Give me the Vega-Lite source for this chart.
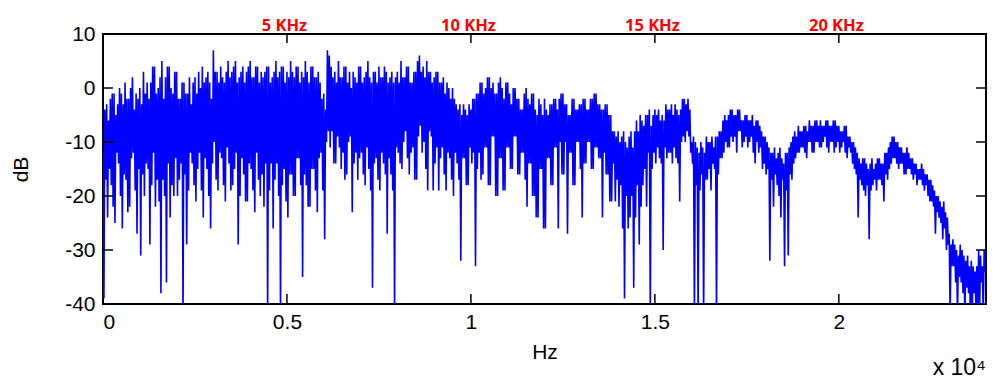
{
"$schema": "https://vega.github.io/schema/vega-lite/v6.json",
"width": 883, "height": 270,
"autosize": {"type": "none"},
"padding": {"left": 103, "top": 34, "right": 21, "bottom": 84},
"config": {"view": {"stroke": "black", "strokeWidth": 2}, "font": "Liberation Sans"},
"title": {"text": "x 10⁴", "orient": "bottom", "anchor": "end", "frame": "group", "font": "Liberation Sans", "fontSize": 23, "fontWeight": "normal", "color": "black", "offset": -5},
"datasets": {
"ticksX": [{"t":5000},{"t":10000},{"t":15000},{"t":20000}],
"ticksY": [{"v":-30},{"v":-20},{"v":-10},{"v":0}],
"spectrum": [
{"hz":0,"db":-12},{"hz":25,"db":-39},{"hz":50,"db":-4},{"hz":75,"db":-17},
{"hz":100,"db":-3},{"hz":125,"db":-24},{"hz":150,"db":-6},{"hz":175,"db":-15},
{"hz":200,"db":-2},{"hz":225,"db":-18},{"hz":250,"db":-1},{"hz":275,"db":-22},
{"hz":300,"db":-1},{"hz":325,"db":-25},{"hz":350,"db":-5},{"hz":375,"db":-12},
{"hz":400,"db":-3},{"hz":425,"db":-14},{"hz":450,"db":0},{"hz":475,"db":-20},
{"hz":500,"db":-1},{"hz":525,"db":-26},{"hz":550,"db":-3},{"hz":575,"db":-16},
{"hz":600,"db":1},{"hz":625,"db":-17},{"hz":650,"db":-2},{"hz":675,"db":-23},
{"hz":700,"db":-2},{"hz":725,"db":-22},{"hz":750,"db":0},{"hz":775,"db":-13},
{"hz":800,"db":2},{"hz":825,"db":-12},{"hz":850,"db":-4},{"hz":875,"db":-19},
{"hz":900,"db":-1},{"hz":925,"db":-27},{"hz":950,"db":-2},{"hz":975,"db":-15},
{"hz":1000,"db":0},{"hz":1025,"db":-31},{"hz":1050,"db":-3},{"hz":1075,"db":-16},
{"hz":1100,"db":3},{"hz":1125,"db":-20},{"hz":1150,"db":-1},{"hz":1175,"db":-14},
{"hz":1200,"db":1},{"hz":1225,"db":-15},{"hz":1250,"db":-2},{"hz":1275,"db":-29},
{"hz":1300,"db":1},{"hz":1325,"db":-18},{"hz":1350,"db":4},{"hz":1375,"db":-12},
{"hz":1400,"db":4},{"hz":1425,"db":-22},{"hz":1450,"db":-1},{"hz":1475,"db":-17},
{"hz":1500,"db":0},{"hz":1525,"db":-21},{"hz":1550,"db":2},{"hz":1575,"db":-38},
{"hz":1600,"db":5},{"hz":1625,"db":-17},{"hz":1650,"db":-2},{"hz":1675,"db":-20},
{"hz":1700,"db":2},{"hz":1725,"db":-36},{"hz":1750,"db":4},{"hz":1775,"db":-14},
{"hz":1800,"db":4},{"hz":1825,"db":-24},{"hz":1850,"db":0},{"hz":1875,"db":-18},
{"hz":1900,"db":-1},{"hz":1925,"db":-20},{"hz":1950,"db":3},{"hz":1975,"db":-13},
{"hz":2000,"db":3},{"hz":2025,"db":-20},{"hz":2050,"db":-2},{"hz":2075,"db":-17},
{"hz":2100,"db":-2},{"hz":2125,"db":-14},{"hz":2150,"db":1},{"hz":2175,"db":-42},
{"hz":2200,"db":1},{"hz":2225,"db":-16},{"hz":2250,"db":-1},{"hz":2275,"db":-29},
{"hz":2300,"db":-1},{"hz":2325,"db":-19},{"hz":2350,"db":2},{"hz":2375,"db":-12},
{"hz":2400,"db":-3},{"hz":2425,"db":-14},{"hz":2450,"db":1},{"hz":2475,"db":-18},
{"hz":2500,"db":2},{"hz":2525,"db":-21},{"hz":2550,"db":-1},{"hz":2575,"db":-15},
{"hz":2600,"db":3},{"hz":2625,"db":-12},{"hz":2650,"db":0},{"hz":2675,"db":-19},
{"hz":2700,"db":4},{"hz":2725,"db":-24},{"hz":2750,"db":1},{"hz":2775,"db":-13},
{"hz":2800,"db":2},{"hz":2825,"db":-15},{"hz":2850,"db":3},{"hz":2875,"db":-20},
{"hz":2900,"db":1},{"hz":2925,"db":-26},{"hz":2950,"db":-2},{"hz":2975,"db":-14},
{"hz":3000,"db":7},{"hz":3025,"db":-10},{"hz":3050,"db":3},{"hz":3075,"db":-17},
{"hz":3100,"db":3},{"hz":3125,"db":-19},{"hz":3150,"db":1},{"hz":3175,"db":-12},
{"hz":3200,"db":4},{"hz":3225,"db":-13},{"hz":3250,"db":2},{"hz":3275,"db":-18},
{"hz":3300,"db":1},{"hz":3325,"db":-21},{"hz":3350,"db":3},{"hz":3375,"db":-11},
{"hz":3400,"db":5},{"hz":3425,"db":-14},{"hz":3450,"db":2},{"hz":3475,"db":-19},
{"hz":3500,"db":3},{"hz":3525,"db":-18},{"hz":3550,"db":4},{"hz":3575,"db":-15},
{"hz":3600,"db":5},{"hz":3625,"db":-12},{"hz":3650,"db":1},{"hz":3675,"db":-29},
{"hz":3700,"db":2},{"hz":3725,"db":-20},{"hz":3750,"db":3},{"hz":3775,"db":-13},
{"hz":3800,"db":4},{"hz":3825,"db":-16},{"hz":3850,"db":1},{"hz":3875,"db":-21},
{"hz":3900,"db":3},{"hz":3925,"db":-21},{"hz":3950,"db":4},{"hz":3975,"db":-14},
{"hz":4000,"db":5},{"hz":4025,"db":-15},{"hz":4050,"db":2},{"hz":4075,"db":-19},
{"hz":4100,"db":2},{"hz":4125,"db":-23},{"hz":4150,"db":4},{"hz":4175,"db":-12},
{"hz":4200,"db":4},{"hz":4225,"db":-17},{"hz":4250,"db":1},{"hz":4275,"db":-20},
{"hz":4300,"db":3},{"hz":4325,"db":-16},{"hz":4350,"db":2},{"hz":4375,"db":-22},
{"hz":4400,"db":3},{"hz":4425,"db":-14},{"hz":4450,"db":4},{"hz":4475,"db":-42},
{"hz":4500,"db":4},{"hz":4525,"db":-19},{"hz":4550,"db":1},{"hz":4575,"db":-14},
{"hz":4600,"db":2},{"hz":4625,"db":-26},{"hz":4650,"db":3},{"hz":4675,"db":-17},
{"hz":4700,"db":5},{"hz":4725,"db":-14},{"hz":4750,"db":2},{"hz":4775,"db":-20},
{"hz":4800,"db":3},{"hz":4825,"db":-42},{"hz":4850,"db":4},{"hz":4875,"db":-18},
{"hz":4900,"db":4},{"hz":4925,"db":-15},{"hz":4950,"db":1},{"hz":4975,"db":-21},
{"hz":5000,"db":3},{"hz":5025,"db":-24},{"hz":5050,"db":2},{"hz":5075,"db":-16},
{"hz":5100,"db":5},{"hz":5125,"db":-16},{"hz":5150,"db":3},{"hz":5175,"db":-20},
{"hz":5200,"db":2},{"hz":5225,"db":-20},{"hz":5250,"db":4},{"hz":5275,"db":-13},
{"hz":5300,"db":4},{"hz":5325,"db":-13},{"hz":5350,"db":1},{"hz":5375,"db":-18},
{"hz":5400,"db":3},{"hz":5425,"db":-35},{"hz":5450,"db":2},{"hz":5475,"db":-16},
{"hz":5500,"db":5},{"hz":5525,"db":-18},{"hz":5550,"db":3},{"hz":5575,"db":-22},
{"hz":5600,"db":1},{"hz":5625,"db":-22},{"hz":5650,"db":4},{"hz":5675,"db":-15},
{"hz":5700,"db":4},{"hz":5725,"db":-15},{"hz":5750,"db":2},{"hz":5775,"db":-19},
{"hz":5800,"db":2},{"hz":5825,"db":-23},{"hz":5850,"db":3},{"hz":5875,"db":-13},
{"hz":5900,"db":1},{"hz":5925,"db":-12},{"hz":5950,"db":-2},{"hz":5975,"db":-19},
{"hz":6000,"db":-1},{"hz":6025,"db":-28},{"hz":6050,"db":-4},{"hz":6075,"db":-10},
{"hz":6100,"db":7},{"hz":6125,"db":-8},{"hz":6150,"db":6},{"hz":6175,"db":-11},
{"hz":6200,"db":4},{"hz":6225,"db":-8},{"hz":6250,"db":2},{"hz":6275,"db":-14},
{"hz":6300,"db":3},{"hz":6325,"db":-14},{"hz":6350,"db":1},{"hz":6375,"db":-9},
{"hz":6400,"db":5},{"hz":6425,"db":-11},{"hz":6450,"db":2},{"hz":6475,"db":-15},
{"hz":6500,"db":2},{"hz":6525,"db":-12},{"hz":6550,"db":4},{"hz":6575,"db":-17},
{"hz":6600,"db":4},{"hz":6625,"db":-16},{"hz":6650,"db":1},{"hz":6675,"db":-10},
{"hz":6700,"db":3},{"hz":6725,"db":-9},{"hz":6750,"db":0},{"hz":6775,"db":-23},
{"hz":6800,"db":3},{"hz":6825,"db":-14},{"hz":6850,"db":2},{"hz":6875,"db":-12},
{"hz":6900,"db":1},{"hz":6925,"db":-17},{"hz":6950,"db":4},{"hz":6975,"db":-13},
{"hz":7000,"db":4},{"hz":7025,"db":-12},{"hz":7050,"db":1},{"hz":7075,"db":-16},
{"hz":7100,"db":2},{"hz":7125,"db":-18},{"hz":7150,"db":3},{"hz":7175,"db":-11},
{"hz":7200,"db":5},{"hz":7225,"db":-15},{"hz":7250,"db":2},{"hz":7275,"db":-19},
{"hz":7300,"db":1},{"hz":7325,"db":-37},{"hz":7350,"db":3},{"hz":7375,"db":-14},
{"hz":7400,"db":3},{"hz":7425,"db":-13},{"hz":7450,"db":1},{"hz":7475,"db":-17},
{"hz":7500,"db":4},{"hz":7525,"db":-19},{"hz":7550,"db":2},{"hz":7575,"db":-12},
{"hz":7600,"db":2},{"hz":7625,"db":-14},{"hz":7650,"db":4},{"hz":7675,"db":-16},
{"hz":7700,"db":3},{"hz":7725,"db":-27},{"hz":7750,"db":1},{"hz":7775,"db":-13},
{"hz":7800,"db":2},{"hz":7825,"db":-16},{"hz":7850,"db":3},{"hz":7875,"db":-19},
{"hz":7900,"db":1},{"hz":7925,"db":-42},{"hz":7950,"db":2},{"hz":7975,"db":-11},
{"hz":8000,"db":3},{"hz":8025,"db":-12},{"hz":8050,"db":1},{"hz":8075,"db":-14},
{"hz":8100,"db":5},{"hz":8125,"db":-15},{"hz":8150,"db":2},{"hz":8175,"db":-10},
{"hz":8200,"db":2},{"hz":8225,"db":-8},{"hz":8250,"db":4},{"hz":8275,"db":-13},
{"hz":8300,"db":4},{"hz":8325,"db":-16},{"hz":8350,"db":1},{"hz":8375,"db":-12},
{"hz":8400,"db":1},{"hz":8425,"db":-11},{"hz":8450,"db":3},{"hz":8475,"db":-17},
{"hz":8500,"db":3},{"hz":8525,"db":-17},{"hz":8550,"db":5},{"hz":8575,"db":-9},
{"hz":8600,"db":6},{"hz":8625,"db":-7},{"hz":8650,"db":3},{"hz":8675,"db":-12},
{"hz":8700,"db":4},{"hz":8725,"db":-10},{"hz":8750,"db":2},{"hz":8775,"db":-15},
{"hz":8800,"db":5},{"hz":8825,"db":-19},{"hz":8850,"db":3},{"hz":8875,"db":-8},
{"hz":8900,"db":3},{"hz":8925,"db":-9},{"hz":8950,"db":1},{"hz":8975,"db":-19},
{"hz":9000,"db":2},{"hz":9025,"db":-14},{"hz":9050,"db":3},{"hz":9075,"db":-11},
{"hz":9100,"db":3},{"hz":9125,"db":-19},{"hz":9150,"db":1},{"hz":9175,"db":-13},
{"hz":9200,"db":1},{"hz":9225,"db":-11},{"hz":9250,"db":2},{"hz":9275,"db":-16},
{"hz":9300,"db":-1},{"hz":9325,"db":-19},{"hz":9350,"db":1},{"hz":9375,"db":-12},
{"hz":9400,"db":0},{"hz":9425,"db":-13},{"hz":9450,"db":-2},{"hz":9475,"db":-17},
{"hz":9500,"db":0},{"hz":9525,"db":-20},{"hz":9550,"db":-2},{"hz":9575,"db":-12},
{"hz":9600,"db":-3},{"hz":9625,"db":-14},{"hz":9650,"db":-4},{"hz":9675,"db":-17},
{"hz":9700,"db":-3},{"hz":9725,"db":-32},{"hz":9750,"db":-5},{"hz":9775,"db":-13},
{"hz":9800,"db":-3},{"hz":9825,"db":-13},{"hz":9850,"db":-4},{"hz":9875,"db":-18},
{"hz":9900,"db":-5},{"hz":9925,"db":-18},{"hz":9950,"db":-3},{"hz":9975,"db":-11},
{"hz":10000,"db":-4},{"hz":10025,"db":-14},{"hz":10050,"db":-2},{"hz":10075,"db":-12},
{"hz":10100,"db":-2},{"hz":10125,"db":-33},{"hz":10150,"db":-1},{"hz":10175,"db":-15},
{"hz":10200,"db":-1},{"hz":10225,"db":-12},{"hz":10250,"db":1},{"hz":10275,"db":-17},
{"hz":10300,"db":1},{"hz":10325,"db":-16},{"hz":10350,"db":-1},{"hz":10375,"db":-11},
{"hz":10400,"db":0},{"hz":10425,"db":-11},{"hz":10450,"db":2},{"hz":10475,"db":-18},
{"hz":10500,"db":2},{"hz":10525,"db":-18},{"hz":10550,"db":0},{"hz":10575,"db":-9},
{"hz":10600,"db":1},{"hz":10625,"db":-9},{"hz":10650,"db":-1},{"hz":10675,"db":-20},
{"hz":10700,"db":-1},{"hz":10725,"db":-20},{"hz":10750,"db":1},{"hz":10775,"db":-13},
{"hz":10800,"db":2},{"hz":10825,"db":-13},{"hz":10850,"db":0},{"hz":10875,"db":-19},
{"hz":10900,"db":-2},{"hz":10925,"db":-19},{"hz":10950,"db":1},{"hz":10975,"db":-11},
{"hz":11000,"db":1},{"hz":11025,"db":-11},{"hz":11050,"db":-1},{"hz":11075,"db":-15},
{"hz":11100,"db":-3},{"hz":11125,"db":-15},{"hz":11150,"db":0},{"hz":11175,"db":-9},
{"hz":11200,"db":0},{"hz":11225,"db":-9},{"hz":11250,"db":-2},{"hz":11275,"db":-16},
{"hz":11300,"db":-2},{"hz":11325,"db":-16},{"hz":11350,"db":-4},{"hz":11375,"db":-12},
{"hz":11400,"db":-4},{"hz":11425,"db":-12},{"hz":11450,"db":-1},{"hz":11475,"db":-17},
{"hz":11500,"db":0},{"hz":11525,"db":-22},{"hz":11550,"db":-2},{"hz":11575,"db":-14},
{"hz":11600,"db":-3},{"hz":11625,"db":-14},{"hz":11650,"db":-1},{"hz":11675,"db":-20},
{"hz":11700,"db":-1},{"hz":11725,"db":-20},{"hz":11750,"db":-4},{"hz":11775,"db":-24},
{"hz":11800,"db":-5},{"hz":11825,"db":-24},{"hz":11850,"db":-2},{"hz":11875,"db":-15},
{"hz":11900,"db":-3},{"hz":11925,"db":-15},{"hz":11950,"db":-5},{"hz":11975,"db":-26},
{"hz":12000,"db":-2},{"hz":12025,"db":-26},{"hz":12050,"db":-4},{"hz":12075,"db":-13},
{"hz":12100,"db":-5},{"hz":12125,"db":-13},{"hz":12150,"db":-3},{"hz":12175,"db":-18},
{"hz":12200,"db":-3},{"hz":12225,"db":-18},{"hz":12250,"db":-2},{"hz":12275,"db":-11},
{"hz":12300,"db":-2},{"hz":12325,"db":-11},{"hz":12350,"db":-4},{"hz":12375,"db":-26},
{"hz":12400,"db":-2},{"hz":12425,"db":-10},{"hz":12450,"db":-1},{"hz":12475,"db":-16},
{"hz":12500,"db":-1},{"hz":12525,"db":-16},{"hz":12550,"db":-3},{"hz":12575,"db":-10},
{"hz":12600,"db":-3},{"hz":12625,"db":-27},{"hz":12650,"db":-5},{"hz":12675,"db":-12},
{"hz":12700,"db":-5},{"hz":12725,"db":-12},{"hz":12750,"db":-2},{"hz":12775,"db":-18},
{"hz":12800,"db":-2},{"hz":12825,"db":-18},{"hz":12850,"db":-4},{"hz":12875,"db":-10},
{"hz":12900,"db":-4},{"hz":12925,"db":-10},{"hz":12950,"db":-3},{"hz":12975,"db":-15},
{"hz":13000,"db":-3},{"hz":13025,"db":-24},{"hz":13050,"db":-2},{"hz":13075,"db":-14},
{"hz":13100,"db":-2},{"hz":13125,"db":-14},{"hz":13150,"db":-4},{"hz":13175,"db":-10},
{"hz":13200,"db":-4},{"hz":13225,"db":-10},{"hz":13250,"db":-2},{"hz":13275,"db":-15},
{"hz":13300,"db":-2},{"hz":13325,"db":-15},{"hz":13350,"db":-1},{"hz":13375,"db":-11},
{"hz":13400,"db":-1},{"hz":13425,"db":-11},{"hz":13450,"db":-3},{"hz":13475,"db":-13},
{"hz":13500,"db":-3},{"hz":13525,"db":-13},{"hz":13550,"db":-4},{"hz":13575,"db":-24},
{"hz":13600,"db":-4},{"hz":13625,"db":-12},{"hz":13650,"db":-3},{"hz":13675,"db":-16},
{"hz":13700,"db":-3},{"hz":13725,"db":-16},{"hz":13750,"db":-5},{"hz":13775,"db":-21},
{"hz":13800,"db":-5},{"hz":13825,"db":-21},{"hz":13850,"db":-8},{"hz":13875,"db":-14},
{"hz":13900,"db":-8},{"hz":13925,"db":-21},{"hz":13950,"db":-9},{"hz":13975,"db":-17},
{"hz":14000,"db":-8},{"hz":14025,"db":-22},{"hz":14050,"db":-10},{"hz":14075,"db":-18},
{"hz":14100,"db":-9},{"hz":14125,"db":-26},{"hz":14150,"db":-8},{"hz":14175,"db":-39},
{"hz":14200,"db":-10},{"hz":14225,"db":-20},{"hz":14250,"db":-11},{"hz":14275,"db":-26},
{"hz":14300,"db":-9},{"hz":14325,"db":-24},{"hz":14350,"db":-8},{"hz":14375,"db":-20},
{"hz":14400,"db":-11},{"hz":14425,"db":-37},{"hz":14450,"db":-8},{"hz":14475,"db":-24},
{"hz":14500,"db":-6},{"hz":14525,"db":-18},{"hz":14550,"db":-8},{"hz":14575,"db":-29},
{"hz":14600,"db":-5},{"hz":14625,"db":-22},{"hz":14650,"db":-6},{"hz":14675,"db":-18},
{"hz":14700,"db":-7},{"hz":14725,"db":-15},{"hz":14750,"db":-5},{"hz":14775,"db":-22},
{"hz":14800,"db":-5},{"hz":14825,"db":-12},{"hz":14850,"db":-4},{"hz":14875,"db":-42},
{"hz":14900,"db":-7},{"hz":14925,"db":-15},{"hz":14950,"db":-5},{"hz":14975,"db":-12},
{"hz":15000,"db":-4},{"hz":15025,"db":-14},{"hz":15050,"db":-5},{"hz":15075,"db":-11},
{"hz":15100,"db":-4},{"hz":15125,"db":-13},{"hz":15150,"db":-6},{"hz":15175,"db":-14},
{"hz":15200,"db":-5},{"hz":15225,"db":-30},{"hz":15250,"db":-6},{"hz":15275,"db":-11},
{"hz":15300,"db":-3},{"hz":15325,"db":-13},{"hz":15350,"db":-4},{"hz":15375,"db":-12},
{"hz":15400,"db":-4},{"hz":15425,"db":-12},{"hz":15450,"db":-3},{"hz":15475,"db":-14},
{"hz":15500,"db":-5},{"hz":15525,"db":-11},{"hz":15550,"db":-3},{"hz":15575,"db":-13},
{"hz":15600,"db":-4},{"hz":15625,"db":-14},{"hz":15650,"db":-5},{"hz":15675,"db":-21},
{"hz":15700,"db":-4},{"hz":15725,"db":-10},{"hz":15750,"db":-2},{"hz":15775,"db":-9},
{"hz":15800,"db":-2},{"hz":15825,"db":-10},{"hz":15850,"db":-3},{"hz":15875,"db":-8},
{"hz":15900,"db":-2},{"hz":15925,"db":-9},{"hz":15950,"db":-4},{"hz":15975,"db":-12},
{"hz":16000,"db":-10},{"hz":16025,"db":-14},{"hz":16050,"db":-9},{"hz":16075,"db":-42},
{"hz":16100,"db":-10},{"hz":16125,"db":-18},{"hz":16150,"db":-11},{"hz":16175,"db":-42},
{"hz":16200,"db":-12},{"hz":16225,"db":-19},{"hz":16250,"db":-10},{"hz":16275,"db":-16},
{"hz":16300,"db":-11},{"hz":16325,"db":-42},{"hz":16350,"db":-12},{"hz":16375,"db":-17},
{"hz":16400,"db":-9},{"hz":16425,"db":-17},{"hz":16450,"db":-10},{"hz":16475,"db":-15},
{"hz":16500,"db":-10},{"hz":16525,"db":-19},{"hz":16550,"db":-9},{"hz":16575,"db":-14},
{"hz":16600,"db":-11},{"hz":16625,"db":-15},{"hz":16650,"db":-9},{"hz":16675,"db":-42},
{"hz":16700,"db":-9},{"hz":16725,"db":-16},{"hz":16750,"db":-8},{"hz":16775,"db":-13},
{"hz":16800,"db":-8},{"hz":16825,"db":-13},{"hz":16850,"db":-6},{"hz":16875,"db":-12},
{"hz":16900,"db":-5},{"hz":16925,"db":-10},{"hz":16950,"db":-6},{"hz":16975,"db":-11},
{"hz":17000,"db":-5},{"hz":17025,"db":-11},{"hz":17050,"db":-4},{"hz":17075,"db":-9},
{"hz":17100,"db":-4},{"hz":17125,"db":-10},{"hz":17150,"db":-5},{"hz":17175,"db":-9},
{"hz":17200,"db":-5},{"hz":17225,"db":-12},{"hz":17250,"db":-4},{"hz":17275,"db":-8},
{"hz":17300,"db":-4},{"hz":17325,"db":-8},{"hz":17350,"db":-6},{"hz":17375,"db":-11},
{"hz":17400,"db":-6},{"hz":17425,"db":-10},{"hz":17450,"db":-5},{"hz":17475,"db":-9},
{"hz":17500,"db":-5},{"hz":17525,"db":-11},{"hz":17550,"db":-6},{"hz":17575,"db":-10},
{"hz":17600,"db":-6},{"hz":17625,"db":-9},{"hz":17650,"db":-5},{"hz":17675,"db":-12},
{"hz":17700,"db":-7},{"hz":17725,"db":-14},{"hz":17750,"db":-6},{"hz":17775,"db":-10},
{"hz":17800,"db":-6},{"hz":17825,"db":-12},{"hz":17850,"db":-7},{"hz":17875,"db":-11},
{"hz":17900,"db":-8},{"hz":17925,"db":-15},{"hz":17950,"db":-9},{"hz":17975,"db":-14},
{"hz":18000,"db":-9},{"hz":18025,"db":-16},{"hz":18050,"db":-10},{"hz":18075,"db":-15},
{"hz":18100,"db":-11},{"hz":18125,"db":-32},{"hz":18150,"db":-12},{"hz":18175,"db":-17},
{"hz":18200,"db":-12},{"hz":18225,"db":-22},{"hz":18250,"db":-11},{"hz":18275,"db":-16},
{"hz":18300,"db":-13},{"hz":18325,"db":-18},{"hz":18350,"db":-12},{"hz":18375,"db":-20},
{"hz":18400,"db":-11},{"hz":18425,"db":-24},{"hz":18450,"db":-13},{"hz":18475,"db":-17},
{"hz":18500,"db":-14},{"hz":18525,"db":-33},{"hz":18550,"db":-12},{"hz":18575,"db":-19},
{"hz":18600,"db":-12},{"hz":18625,"db":-31},{"hz":18650,"db":-11},{"hz":18675,"db":-16},
{"hz":18700,"db":-10},{"hz":18725,"db":-17},{"hz":18750,"db":-9},{"hz":18775,"db":-14},
{"hz":18800,"db":-8},{"hz":18825,"db":-13},{"hz":18850,"db":-9},{"hz":18875,"db":-12},
{"hz":18900,"db":-7},{"hz":18925,"db":-12},{"hz":18950,"db":-8},{"hz":18975,"db":-11},
{"hz":19000,"db":-8},{"hz":19025,"db":-11},{"hz":19050,"db":-7},{"hz":19075,"db":-12},
{"hz":19100,"db":-7},{"hz":19125,"db":-13},{"hz":19150,"db":-8},{"hz":19175,"db":-10},
{"hz":19200,"db":-6},{"hz":19225,"db":-10},{"hz":19250,"db":-7},{"hz":19275,"db":-12},
{"hz":19300,"db":-7},{"hz":19325,"db":-12},{"hz":19350,"db":-6},{"hz":19375,"db":-10},
{"hz":19400,"db":-6},{"hz":19425,"db":-10},{"hz":19450,"db":-7},{"hz":19475,"db":-11},
{"hz":19500,"db":-6},{"hz":19525,"db":-11},{"hz":19550,"db":-7},{"hz":19575,"db":-10},
{"hz":19600,"db":-7},{"hz":19625,"db":-9},{"hz":19650,"db":-6},{"hz":19675,"db":-11},
{"hz":19700,"db":-6},{"hz":19725,"db":-12},{"hz":19750,"db":-7},{"hz":19775,"db":-10},
{"hz":19800,"db":-7},{"hz":19825,"db":-10},{"hz":19850,"db":-6},{"hz":19875,"db":-12},
{"hz":19900,"db":-6},{"hz":19925,"db":-11},{"hz":19950,"db":-7},{"hz":19975,"db":-10},
{"hz":20000,"db":-7},{"hz":20025,"db":-12},{"hz":20050,"db":-8},{"hz":20075,"db":-11},
{"hz":20100,"db":-8},{"hz":20125,"db":-10},{"hz":20150,"db":-7},{"hz":20175,"db":-12},
{"hz":20200,"db":-7},{"hz":20225,"db":-13},{"hz":20250,"db":-9},{"hz":20275,"db":-11},
{"hz":20300,"db":-9},{"hz":20325,"db":-12},{"hz":20350,"db":-10},{"hz":20375,"db":-14},
{"hz":20400,"db":-10},{"hz":20425,"db":-15},{"hz":20450,"db":-11},{"hz":20475,"db":-16},
{"hz":20500,"db":-12},{"hz":20525,"db":-24},{"hz":20550,"db":-13},{"hz":20575,"db":-17},
{"hz":20600,"db":-14},{"hz":20625,"db":-18},{"hz":20650,"db":-13},{"hz":20675,"db":-19},
{"hz":20700,"db":-13},{"hz":20725,"db":-20},{"hz":20750,"db":-14},{"hz":20775,"db":-18},
{"hz":20800,"db":-15},{"hz":20825,"db":-28},{"hz":20850,"db":-14},{"hz":20875,"db":-19},
{"hz":20900,"db":-13},{"hz":20925,"db":-18},{"hz":20950,"db":-15},{"hz":20975,"db":-17},
{"hz":21000,"db":-14},{"hz":21025,"db":-19},{"hz":21050,"db":-13},{"hz":21075,"db":-17},
{"hz":21100,"db":-13},{"hz":21125,"db":-17},{"hz":21150,"db":-14},{"hz":21175,"db":-18},
{"hz":21200,"db":-14},{"hz":21225,"db":-21},{"hz":21250,"db":-12},{"hz":21275,"db":-16},
{"hz":21300,"db":-12},{"hz":21325,"db":-17},{"hz":21350,"db":-11},{"hz":21375,"db":-15},
{"hz":21400,"db":-10},{"hz":21425,"db":-14},{"hz":21450,"db":-9},{"hz":21475,"db":-13},
{"hz":21500,"db":-9},{"hz":21525,"db":-13},{"hz":21550,"db":-10},{"hz":21575,"db":-14},
{"hz":21600,"db":-10},{"hz":21625,"db":-15},{"hz":21650,"db":-11},{"hz":21675,"db":-14},
{"hz":21700,"db":-11},{"hz":21725,"db":-14},{"hz":21750,"db":-12},{"hz":21775,"db":-16},
{"hz":21800,"db":-12},{"hz":21825,"db":-16},{"hz":21850,"db":-11},{"hz":21875,"db":-15},
{"hz":21900,"db":-12},{"hz":21925,"db":-15},{"hz":21950,"db":-13},{"hz":21975,"db":-16},
{"hz":22000,"db":-13},{"hz":22025,"db":-17},{"hz":22050,"db":-14},{"hz":22075,"db":-16},
{"hz":22100,"db":-14},{"hz":22125,"db":-18},{"hz":22150,"db":-15},{"hz":22175,"db":-17},
{"hz":22200,"db":-15},{"hz":22225,"db":-17},{"hz":22250,"db":-14},{"hz":22275,"db":-18},
{"hz":22300,"db":-15},{"hz":22325,"db":-19},{"hz":22350,"db":-16},{"hz":22375,"db":-18},
{"hz":22400,"db":-16},{"hz":22425,"db":-20},{"hz":22450,"db":-17},{"hz":22475,"db":-21},
{"hz":22500,"db":-17},{"hz":22525,"db":-21},{"hz":22550,"db":-18},{"hz":22575,"db":-22},
{"hz":22600,"db":-19},{"hz":22625,"db":-27},{"hz":22650,"db":-20},{"hz":22675,"db":-23},
{"hz":22700,"db":-20},{"hz":22725,"db":-24},{"hz":22750,"db":-21},{"hz":22775,"db":-25},
{"hz":22800,"db":-22},{"hz":22825,"db":-28},{"hz":22850,"db":-21},{"hz":22875,"db":-26},
{"hz":22900,"db":-23},{"hz":22925,"db":-30},{"hz":22950,"db":-24},{"hz":22975,"db":-29},
{"hz":23000,"db":-27},{"hz":23025,"db":-42},{"hz":23050,"db":-29},{"hz":23075,"db":-33},
{"hz":23100,"db":-28},{"hz":23125,"db":-33},{"hz":23150,"db":-29},{"hz":23175,"db":-36},
{"hz":23200,"db":-30},{"hz":23225,"db":-42},{"hz":23250,"db":-31},{"hz":23275,"db":-35},
{"hz":23300,"db":-29},{"hz":23325,"db":-36},{"hz":23350,"db":-30},{"hz":23375,"db":-38},
{"hz":23400,"db":-31},{"hz":23425,"db":-42},{"hz":23450,"db":-32},{"hz":23475,"db":-37},
{"hz":23500,"db":-31},{"hz":23525,"db":-38},{"hz":23550,"db":-33},{"hz":23575,"db":-42},
{"hz":23600,"db":-32},{"hz":23625,"db":-42},{"hz":23650,"db":-33},{"hz":23675,"db":-38},
{"hz":23700,"db":-34},{"hz":23725,"db":-40},{"hz":23750,"db":-33},{"hz":23775,"db":-42},
{"hz":23800,"db":-30},{"hz":23825,"db":-42},{"hz":23850,"db":-31},{"hz":23875,"db":-36},
{"hz":23900,"db":-33},{"hz":23925,"db":-42},{"hz":23950,"db":-30},{"hz":23975,"db":-34},
{"hz":24000,"db":-28}
]},
"layer": [
{"data": {"name": "spectrum"},
 "mark": {"type": "line", "color": "#0000ff", "strokeWidth": 1.6, "strokeJoin": "bevel", "clip": true},
 "encoding": {
  "x": {"field": "hz", "type": "quantitative", "scale": {"domain": [0, 24000], "nice": false, "zero": false},
        "axis": {"orient": "bottom", "values": [0, 5000, 10000, 15000, 20000], "labelExpr": "datum.value / 10000", "domain": false, "grid": false, "ticks": false, "labelFont": "Liberation Sans", "labelFontSize": 21, "labelColor": "black", "labelPadding": 7, "title": "Hz", "titleFont": "Liberation Sans", "titleFontSize": 21, "titleFontWeight": "normal", "titleColor": "black", "titlePadding": 9}},
  "y": {"field": "db", "type": "quantitative", "scale": {"domain": [-40, 10], "nice": false, "zero": false},
        "axis": {"orient": "left", "values": [-40, -30, -20, -10, 0, 10], "labelExpr": "'' + datum.value", "domain": false, "grid": false, "ticks": false, "labelFont": "Liberation Sans", "labelFontSize": 21, "labelColor": "black", "labelPadding": 8, "title": "dB", "titleFont": "Liberation Sans", "titleFontSize": 21, "titleFontWeight": "normal", "titleColor": "black", "titlePadding": 33}}
 }},
{"data": {"name": "spectrum"},
 "mark": {"type": "line", "strokeOpacity": 0, "clip": true},
 "encoding": {
  "x": {"field": "hz", "type": "quantitative",
        "axis": {"orient": "top", "values": [5000, 10000, 15000, 20000], "labelExpr": "datum.value / 1000 + ' KHz'", "domain": false, "grid": false, "ticks": false, "labelFont": "Open Sans", "labelFontWeight": "bold", "labelFontSize": 16.5, "labelColor": "#ff0000", "labelPadding": 1, "labelOffset": -3, "title": null}},
  "y": {"field": "db", "type": "quantitative", "axis": null}
 }},
{"data": {"name": "ticksX"},
 "mark": {"type": "rule", "color": "black", "strokeWidth": 1.5},
 "encoding": {
  "x": {"field": "t", "type": "quantitative", "axis": null},
  "y": {"datum": -40, "axis": null},
  "y2": {"datum": -38.15}
 }},
{"data": {"name": "ticksX"},
 "mark": {"type": "rule", "color": "black", "strokeWidth": 1.5},
 "encoding": {
  "x": {"field": "t", "type": "quantitative", "axis": null},
  "y": {"datum": 10, "axis": null},
  "y2": {"datum": 8.33}
 }},
{"data": {"name": "ticksY"},
 "mark": {"type": "rule", "color": "black", "strokeWidth": 1.5},
 "encoding": {
  "y": {"field": "v", "type": "quantitative", "axis": null},
  "x": {"datum": 0, "axis": null},
  "x2": {"datum": 272}
 }},
{"data": {"name": "ticksY"},
 "mark": {"type": "rule", "color": "black", "strokeWidth": 1.5},
 "encoding": {
  "y": {"field": "v", "type": "quantitative", "axis": null},
  "x": {"datum": 23728, "axis": null},
  "x2": {"datum": 24000}
 }}
],
"resolve": {"axis": {"x": "independent", "y": "independent"}}
}
